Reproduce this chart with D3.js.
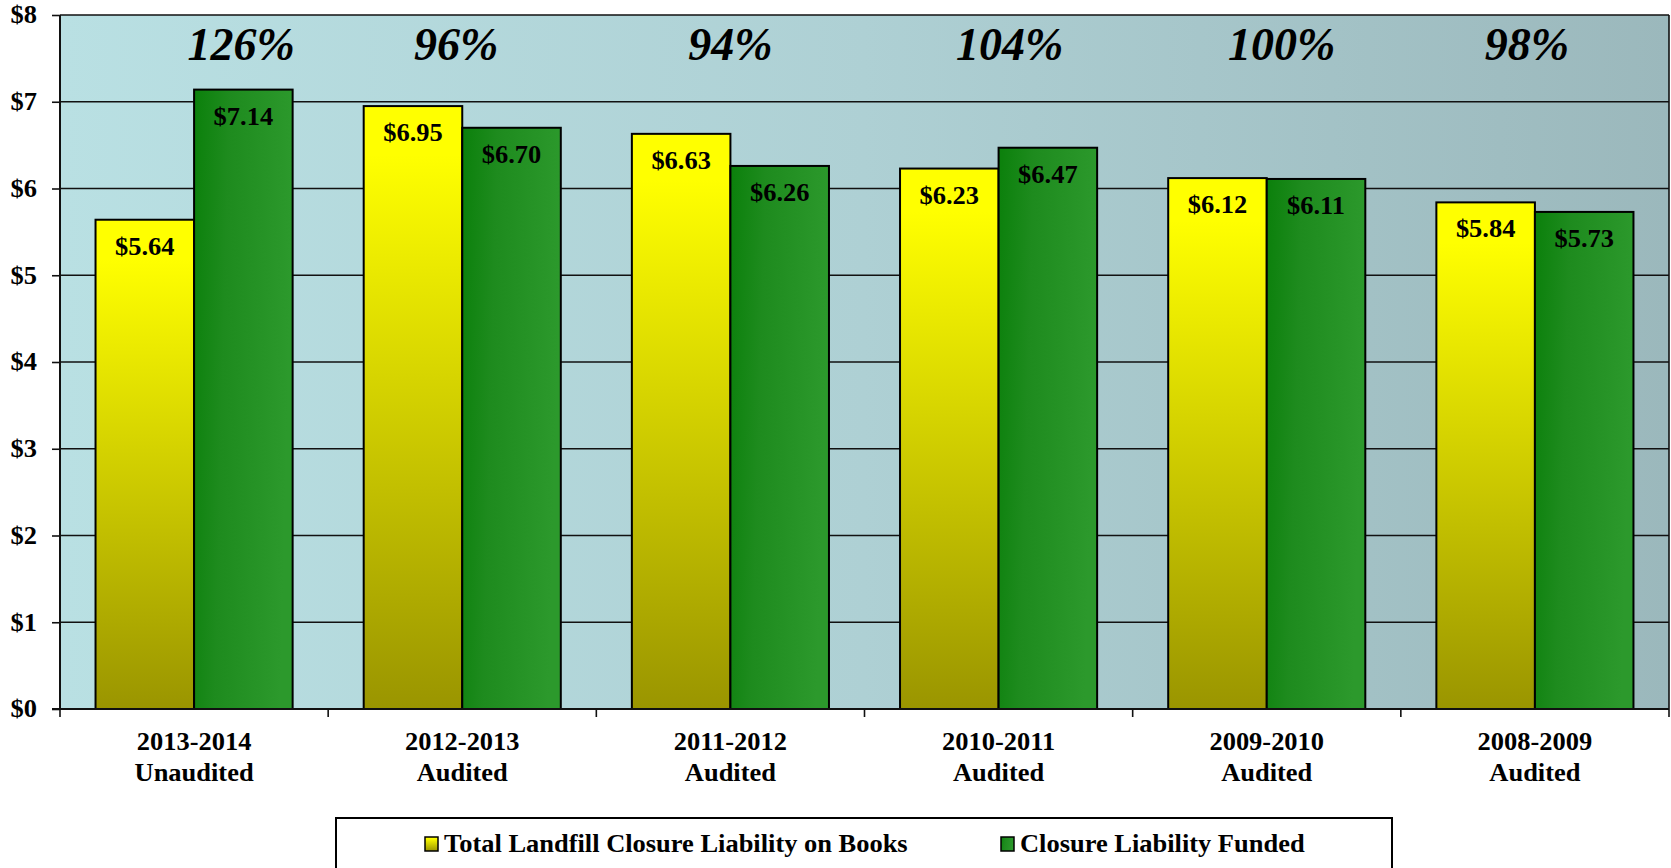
<!DOCTYPE html>
<html>
<head>
<meta charset="utf-8">
<script src="https://cdn.jsdelivr.net/npm/d3@7"></script>
<style>
  html, body { margin: 0; padding: 0; background: #fff; }
  svg { display: block; }
  text { font-family: "Liberation Serif", "Times New Roman", serif; font-weight: bold; fill: #000; }
</style>
</head>
<body>
<svg id="chart" width="1671" height="868"></svg>
<script>
// ---- data ----
const categories = ["2013-2014|Unaudited", "2012-2013|Audited", "2011-2012|Audited", "2010-2011|Audited", "2009-2010|Audited", "2008-2009|Audited"];
const seriesNames = ["Total Landfill Closure Liability on Books", "Closure Liability Funded"];
const liabilityOnBooks = [5.64, 6.95, 6.63, 6.23, 6.12, 5.84];
const liabilityFunded = [7.14, 6.70, 6.26, 6.47, 6.11, 5.73];
const fundedPercent = ["126%", "96%", "94%", "104%", "100%", "98%"];
const yTicks = [0, 1, 2, 3, 4, 5, 6, 7, 8];
const yTickLabels = ["$0", "$1", "$2", "$3", "$4", "$5", "$6", "$7", "$8"];

// ---- layout (not data) ----
const W = 1671, H = 868;
const plot = { left: 60, right: 1669, top: 15, bottom: 709 };
const pctDx = [47, -6, 0, 11, 15, -8];  // hand-placed annotation offsets
const SX = 1.08; // horizontal stretch of the source text

const svg = d3.select("#chart");
const defs = svg.append("defs");

const bg = defs.append("linearGradient").attr("id", "bgGrad").attr("x1", "0").attr("y1", "0").attr("x2", "1").attr("y2", "0");
bg.append("stop").attr("offset", "0%").attr("stop-color", "#B9E0E3");
bg.append("stop").attr("offset", "50%").attr("stop-color", "#AED0D4");
bg.append("stop").attr("offset", "100%").attr("stop-color", "#9BB8BC");

const yg = defs.append("linearGradient").attr("id", "yelGrad").attr("x1", "0").attr("y1", "0").attr("x2", "0").attr("y2", "1");
yg.append("stop").attr("offset", "0%").attr("stop-color", "#FFFF00");
yg.append("stop").attr("offset", "8%").attr("stop-color", "#FFFF00");
yg.append("stop").attr("offset", "100%").attr("stop-color", "#9A9500");

const gg = defs.append("linearGradient").attr("id", "grnGrad").attr("x1", "0").attr("y1", "0").attr("x2", "1").attr("y2", "0.15");
gg.append("stop").attr("offset", "0%").attr("stop-color", "#0B800B");
gg.append("stop").attr("offset", "35%").attr("stop-color", "#1E8B1E");
gg.append("stop").attr("offset", "100%").attr("stop-color", "#2C992C");

const fills = ["url(#yelGrad)", "url(#grnGrad)"];

// ---- scales ----
const x0 = d3.scaleBand().domain(categories).range([plot.left, plot.right]).paddingInner(0.265).paddingOuter(0.1325);
const x1 = d3.scaleBand().domain(seriesNames).range([0, x0.bandwidth()]);
const y = d3.scaleLinear().domain([0, 8]).range([plot.bottom, plot.top]);
const step = x0.step();

// background
svg.append("rect").attr("x", plot.left).attr("y", plot.top)
  .attr("width", plot.right - plot.left).attr("height", plot.bottom - plot.top)
  .attr("fill", "url(#bgGrad)");

// gridlines
svg.append("g").selectAll("line").data(yTicks.filter(d => d > 0)).join("line")
  .attr("x1", plot.left).attr("x2", plot.right)
  .attr("y1", d => y(d)).attr("y2", d => y(d))
  .attr("stroke", "#111").attr("stroke-width", 1.6);

// right border
svg.append("line").attr("x1", plot.right).attr("x2", plot.right).attr("y1", plot.top).attr("y2", plot.bottom)
  .attr("stroke", "#111").attr("stroke-width", 1.6);

// bars
const series = [liabilityOnBooks, liabilityFunded];
const groups = svg.append("g").selectAll("g").data(categories).join("g")
  .attr("transform", d => `translate(${x0(d)},0)`);

groups.selectAll("rect").data((c, i) => series.map((s, k) => ({ k, v: s[i] }))).join("rect")
  .attr("x", d => x1(seriesNames[d.k]))
  .attr("y", d => y(d.v))
  .attr("width", x1.bandwidth())
  .attr("height", d => y(0) - y(d.v))
  .attr("fill", d => fills[d.k])
  .attr("stroke", "#000").attr("stroke-width", 2);

groups.selectAll("text.val").data((c, i) => series.map((s, k) => ({ k, v: s[i] }))).join("text")
  .attr("class", "val")
  .attr("transform", d => `translate(${x1(seriesNames[d.k]) + x1.bandwidth() / 2},${y(d.v) + 35}) scale(${SX},1)`)
  .attr("text-anchor", "middle")
  .attr("font-size", 24.5)
  .text(d => "$" + d.v.toFixed(2));

// percentage annotations
svg.append("g").selectAll("text").data(categories).join("text")
  .attr("x", (d, i) => x0(d) + x0.bandwidth() / 2 + pctDx[i])
  .attr("y", 60)
  .attr("text-anchor", "middle")
  .attr("font-size", 46)
  .attr("font-style", "italic")
  .text((d, i) => fundedPercent[i]);

// y axis
const yAxis = d3.axisLeft(y).tickValues(yTicks).tickFormat((d, i) => yTickLabels[i]).tickSize(8).tickPadding(15);
const gy = svg.append("g").attr("transform", `translate(${plot.left},0)`).call(yAxis);
gy.select(".domain").attr("stroke", "#111").attr("stroke-width", 2).attr("d", `M0,${plot.top}V${plot.bottom}`);
gy.selectAll(".tick line").attr("stroke", "#111").attr("stroke-width", 1.6);
gy.selectAll(".tick text")
  .attr("font-size", 24.5)
  .attr("font-family", "Liberation Serif, serif")
  .attr("font-weight", "bold")
  .attr("fill", "#000")
  .attr("transform", `scale(${SX},1)`)
  .attr("x", -23 / SX);

// x axis
svg.append("line").attr("x1", plot.left - 8).attr("x2", plot.right).attr("y1", plot.bottom).attr("y2", plot.bottom)
  .attr("stroke", "#111").attr("stroke-width", 2);
svg.append("g").selectAll("line").data(d3.range(categories.length + 1)).join("line")
  .attr("x1", i => plot.left + i * step).attr("x2", i => plot.left + i * step)
  .attr("y1", plot.bottom).attr("y2", plot.bottom + 8)
  .attr("stroke", "#111").attr("stroke-width", 1.6);

const xl = svg.append("g").selectAll("g").data(categories).join("g")
  .attr("transform", d => `translate(${x0(d) + x0.bandwidth() / 2},0)`);
xl.selectAll("text").data(d => d.split("|")).join("text")
  .attr("transform", (d, j) => `translate(0,${750 + j * 31}) scale(${SX},1)`)
  .attr("text-anchor", "middle")
  .attr("font-size", 24.5)
  .text(d => d);

// legend
svg.append("rect").attr("x", 336).attr("y", 818).attr("width", 1056).attr("height", 60)
  .attr("fill", "#fff").attr("stroke", "#000").attr("stroke-width", 2);
const legendX = [425, 1001];
const leg = svg.append("g").selectAll("g").data(seriesNames).join("g")
  .attr("transform", (d, i) => `translate(${legendX[i]},0)`);
leg.append("rect").attr("x", 0).attr("y", 837).attr("width", 13).attr("height", 14)
  .attr("fill", (d, i) => fills[i]).attr("stroke", "#000").attr("stroke-width", 1.5);
leg.append("text")
  .attr("transform", `translate(19,852) scale(${SX},1)`)
  .attr("font-size", 24.5)
  .text(d => d);
</script>
</body>
</html>
